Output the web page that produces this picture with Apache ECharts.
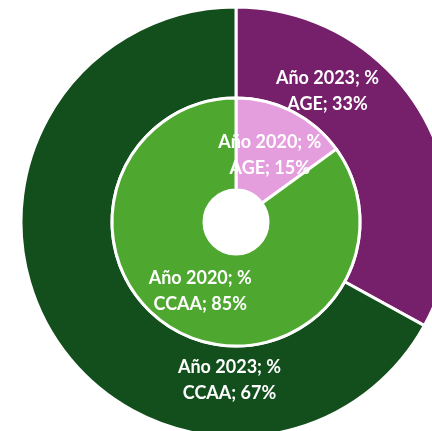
<!DOCTYPE html>
<html><head><meta charset="utf-8">
<script src="https://cdn.jsdelivr.net/npm/echarts@6/dist/echarts.min.js"></script>
<style>html,body{margin:0;padding:0;background:#fff}#c{width:432px;height:431px}</style>
</head><body><div id="c"></div>
<script>
const categories = ['AGE', 'CCAA'];
const values2020 = [15, 85];
const values2023 = [33, 67];
const seriesNames = ['Año 2020', 'Año 2023'];
const colors2020 = ['#E49EDD', '#4EA72E'];
const colors2023 = ['#761F6A', '#134F1D'];

const chart = echarts.init(document.getElementById('c'));
const fmt = p => p.seriesName + '; %\n' + p.name + '; ' + p.value + '%';
const labelStyle = {
  show: true, position: 'inside', formatter: fmt, color: '#fff',
  fontFamily: 'Lato', fontWeight: 'bold', fontSize: 18, lineHeight: 26
};
const outerShift = [[-57, -43], [142, 70]];
const innerShift = [[-3, 5], [1, -3]];
chart.setOption({
  animation: false,
  series: [
    {
      type: 'pie', name: seriesNames[1], center: [236, 222], radius: [124, 215],
      startAngle: 90, clockwise: true, silent: true,
      itemStyle: { borderColor: '#fff', borderWidth: 3 },
      label: labelStyle, labelLine: { show: false },
      labelLayout: p => ({ dx: outerShift[p.dataIndex][0], dy: outerShift[p.dataIndex][1] }),
      data: categories.map((c, i) => ({ name: c, value: values2023[i], itemStyle: { color: colors2023[i] } }))
    },
    {
      type: 'pie', name: seriesNames[0], center: [236, 222], radius: [32, 124],
      startAngle: 90, clockwise: true, silent: true,
      itemStyle: { borderColor: '#fff', borderWidth: 3 },
      label: labelStyle, labelLine: { show: false },
      labelLayout: p => ({ dx: innerShift[p.dataIndex][0], dy: innerShift[p.dataIndex][1] }),
      data: categories.map((c, i) => ({ name: c, value: values2020[i], itemStyle: { color: colors2020[i] } }))
    }
  ]
});
</script></body></html>
